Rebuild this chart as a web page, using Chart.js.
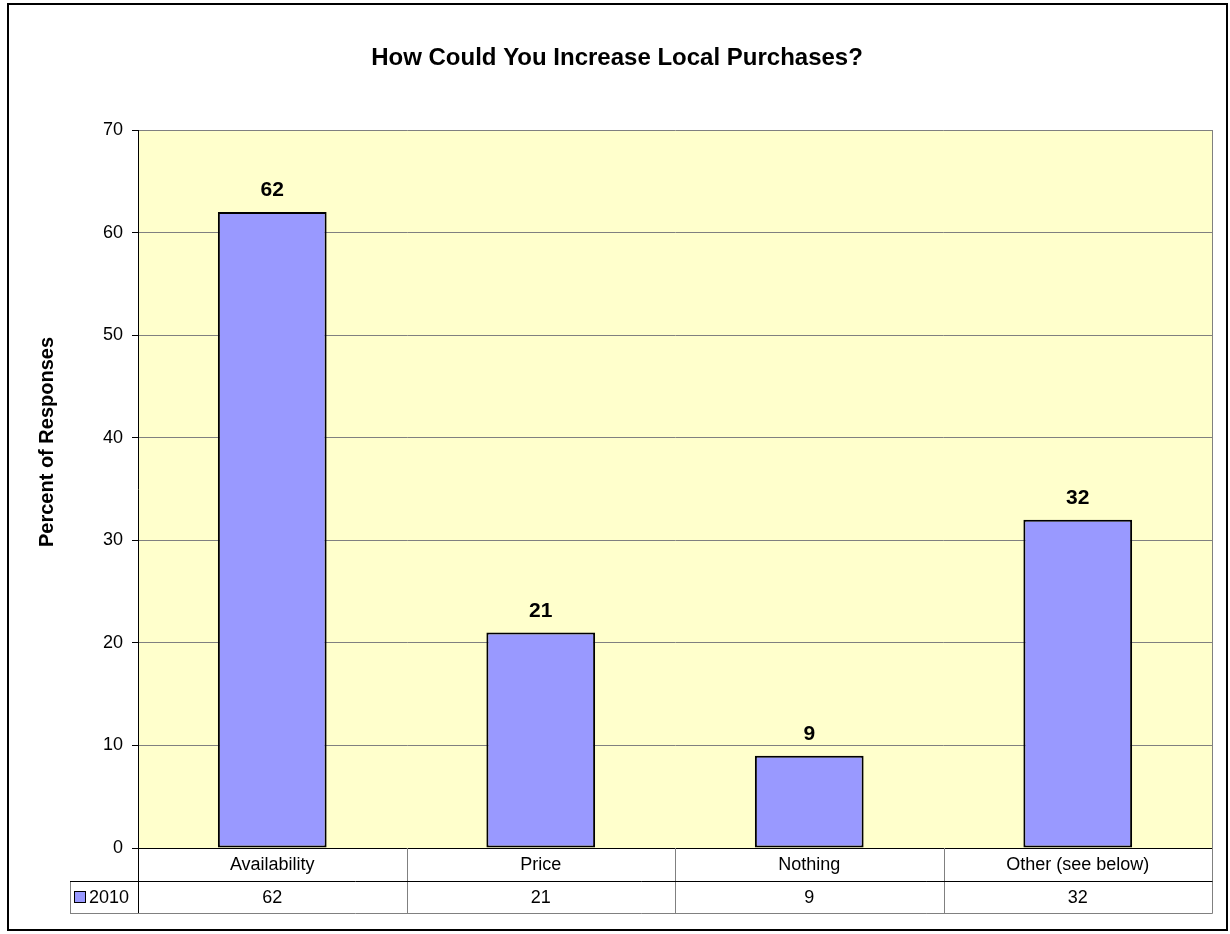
<!DOCTYPE html>
<html>
<head>
<meta charset="utf-8">
<script src="https://cdn.jsdelivr.net/npm/chart.js@4.4.1/dist/chart.umd.min.js"></script>
<style>
  html, body { margin: 0; padding: 0; background: #ffffff; }
  #wrap { width: 1230px; height: 934px; }
</style>
</head>
<body>
<div id="wrap"><canvas id="c" width="1230" height="934"></canvas></div>
<script>
// Survey responses: share of respondents per answer
const categories = ['Availability', 'Price', 'Nothing', 'Other (see below)'];
const seriesName = '2010';
const values2010 = [62, 21, 9, 32];
const yTicks = [0, 10, 20, 30, 40, 50, 60, 70];

const chartTitle = 'How Could You Increase Local Purchases?';
const yAxisTitle = 'Percent of Responses';

const FONT = '"Liberation Sans", Arial, sans-serif';
const BAR_FILL = '#9999FF';
const PLOT_BG = '#FFFFCC';
const GRID = '#808080';

// Frame, plot background, titles, value labels and the data table under the axis
const decorations = {
  id: 'decorations',
  beforeDraw(chart) {
    const { ctx, chartArea: a } = chart;
    ctx.save();
    ctx.fillStyle = '#ffffff';
    ctx.fillRect(0, 0, chart.width, chart.height);
    ctx.fillStyle = PLOT_BG;
    ctx.fillRect(a.left, a.top, a.right - a.left, a.bottom - a.top);
    ctx.restore();
  },
  afterDraw(chart) {
    const { ctx, chartArea: a } = chart;
    const x = chart.scales.x;
    const meta = chart.getDatasetMeta(0);
    ctx.save();

    // right edge of the plot area
    ctx.strokeStyle = GRID;
    ctx.lineWidth = 1;
    ctx.beginPath();
    ctx.moveTo(Math.round(a.right) + 0.5, a.top);
    ctx.lineTo(Math.round(a.right) + 0.5, a.bottom);
    ctx.stroke();

    // outer frame
    ctx.strokeStyle = '#000000';
    ctx.lineWidth = 2;
    ctx.strokeRect(8, 4, 1219, 926);

    // chart title
    ctx.fillStyle = '#000000';
    ctx.textAlign = 'center';
    ctx.textBaseline = 'middle';
    ctx.font = 'bold 24px ' + FONT;
    ctx.fillText(chartTitle, 617, 58);

    // vertical axis title
    ctx.save();
    ctx.translate(47, 442);
    ctx.rotate(-Math.PI / 2);
    ctx.font = 'bold 20px ' + FONT;
    ctx.fillText(yAxisTitle, 0, 0);
    ctx.restore();

    // value labels above each bar
    ctx.font = 'bold 21px ' + FONT;
    ctx.textBaseline = 'alphabetic';
    meta.data.forEach((bar, i) => {
      ctx.fillText(String(values2010[i]), bar.x, bar.y - 16);
    });

    // data table
    const left = a.left, right = a.right;
    const row1Top = a.bottom, row1Bot = a.bottom + 33, row2Bot = a.bottom + 65;
    const legendLeft = 70;
    const n = categories.length;
    const step = (right - left) / n;

    ctx.lineWidth = 1;
    ctx.strokeStyle = GRID;
    ctx.beginPath();
    for (let i = 1; i < n; i++) {
      const vx = Math.round(left + step * i) + 0.5;
      ctx.moveTo(vx, row1Top); ctx.lineTo(vx, row2Bot);
    }
    const rx = Math.round(right) + 0.5;
    ctx.moveTo(rx, row1Top); ctx.lineTo(rx, row2Bot + 0.5);
    ctx.moveTo(legendLeft + 0.5, row1Bot); ctx.lineTo(legendLeft + 0.5, row2Bot);
    ctx.moveTo(legendLeft, row2Bot + 0.5); ctx.lineTo(rx, row2Bot + 0.5);
    ctx.stroke();

    ctx.strokeStyle = '#000000';
    ctx.beginPath();
    ctx.moveTo(legendLeft, row1Bot + 0.5); ctx.lineTo(rx, row1Bot + 0.5);
    const lx = Math.round(left) + 0.5;
    ctx.moveTo(lx, row1Top); ctx.lineTo(lx, row2Bot);
    ctx.stroke();

    ctx.font = '18px ' + FONT;
    ctx.textAlign = 'center';
    ctx.textBaseline = 'middle';
    ctx.fillStyle = '#000000';
    categories.forEach((c, i) => {
      const cx = x.getPixelForValue(i);
      ctx.fillText(c, cx, (row1Top + row1Bot) / 2 + 1);
      ctx.fillText(String(values2010[i]), cx, (row1Bot + row2Bot) / 2 + 1);
    });

    // legend key in the table
    ctx.fillStyle = BAR_FILL;
    ctx.fillRect(75, 892, 10, 10);
    ctx.strokeStyle = '#000000';
    ctx.strokeRect(74.5, 891.5, 11, 11);
    ctx.fillStyle = '#000000';
    ctx.textAlign = 'left';
    ctx.fillText(seriesName, 89, (row1Bot + row2Bot) / 2 + 1);

    ctx.restore();
  }
};

new Chart(document.getElementById('c'), {
  type: 'bar',
  data: {
    labels: categories,
    datasets: [{
      label: seriesName,
      data: values2010,
      backgroundColor: BAR_FILL,
      borderColor: '#000000',
      borderWidth: 2,
      borderSkipped: false,
      barPercentage: 0.405,
      categoryPercentage: 1.0
    }]
  },
  options: {
    responsive: false,
    animation: false,
    events: [],
    layout: { padding: { left: 0, top: 130, right: 18, bottom: 86 } },
    plugins: {
      legend: { display: false },
      title: { display: false },
      tooltip: { enabled: false }
    },
    scales: {
      x: {
        grid: { display: false, drawTicks: false },
        border: { display: true, color: '#000000', width: 1 },
        ticks: { display: false },
        afterFit(scale) { scale.height = 0; }
      },
      y: {
        min: 0,
        max: 70,
        afterBuildTicks(scale) { scale.ticks = yTicks.map(v => ({ value: v })); },
        grid: { color: GRID, tickColor: '#000000', tickLength: 6, lineWidth: 1 },
        border: { display: true, color: '#000000', width: 1 },
        ticks: {
          color: '#000000',
          padding: 9,
          font: { family: FONT, size: 18 }
        },
        afterFit(scale) { scale.width = 138; }
      }
    }
  },
  plugins: [decorations]
});
</script>
</body>
</html>
